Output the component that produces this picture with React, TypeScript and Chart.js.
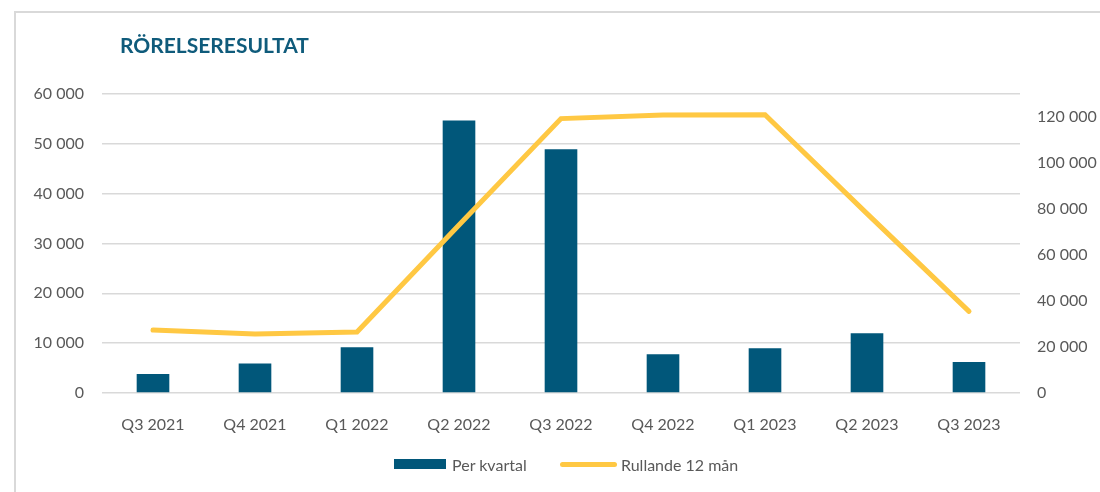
import React, { useEffect, useRef } from "react";
import { Chart, registerables } from "chart.js";

Chart.register(...registerables);

const categories = ["Q3 2021", "Q4 2021", "Q1 2022", "Q2 2022", "Q3 2022", "Q4 2022", "Q1 2023", "Q2 2023", "Q3 2023"];
const perKvartal = [3800, 5900, 9200, 54700, 48900, 7800, 9000, 12000, 6200];
const rullande12 = [27400, 25600, 26500, 73000, 119300, 120900, 121000, 78000, 35500];
const leftTicks = [0, 10000, 20000, 30000, 40000, 50000, 60000];
const rightTicks = [0, 20000, 40000, 60000, 80000, 100000, 120000];
const titleText = "RÖRELSERESULTAT";
const barLabel = "Per kvartal";
const lineLabel = "Rullande 12 mån";

const BAR_COLOR = "#01577A";
const LINE_COLOR = "#FFC843";
const TEXT_COLOR = "#595959";
const GRID_COLOR = "#D9D9D9";
const FONT = "Lato, 'Noto Sans', sans-serif";

const fmt = (v: number) => {
  const s = Math.round(v).toString();
  return s.replace(/\B(?=(\d{3})+(?!\d))/g, " ");
};

export default function App() {
  const canvasRef = useRef<HTMLCanvasElement | null>(null);

  useEffect(() => {
    if (!canvasRef.current) return;
    const chart = new Chart(canvasRef.current, {
      type: "bar",
      data: {
        labels: categories,
        datasets: [
          {
            type: "line",
            label: lineLabel,
            data: rullande12,
            yAxisID: "y1",
            borderColor: LINE_COLOR,
            backgroundColor: LINE_COLOR,
            borderWidth: 5,
            borderCapStyle: "round",
            borderJoinStyle: "miter",
            pointRadius: 0,
            pointHoverRadius: 0,
            tension: 0,
            order: 0,
          } as any,
          {
            type: "bar",
            label: barLabel,
            data: perKvartal,
            yAxisID: "y",
            backgroundColor: BAR_COLOR,
            borderWidth: 0,
            barPercentage: 0.32,
            categoryPercentage: 1,
            order: 1,
          },
        ],
      },
      options: {
        responsive: false,
        animation: false,
        layout: { padding: { left: 0, right: 0, top: 94, bottom: 51 } },
        plugins: {
          legend: { display: false },
          title: { display: false },
          tooltip: { enabled: false },
        },
        scales: {
          x: {
            grid: { display: false },
            border: { display: false },
            ticks: {
              color: TEXT_COLOR,
              font: { family: FONT, size: 16 },
              padding: 14,
              maxRotation: 0,
              autoSkip: false,
            },
            afterFit: (s: any) => {
              s.height = 48;
            },
          },
          y: {
            position: "left",
            min: 0,
            max: 60000,
            grid: { color: GRID_COLOR, lineWidth: 1.5, drawTicks: false },
            border: { display: false },
            ticks: {
              color: TEXT_COLOR,
              font: { family: FONT, size: 16 },
              padding: 18,
              callback: (v: any) => fmt(Number(v)),
            },
            afterBuildTicks: (s: any) => {
              s.ticks = leftTicks.map((v) => ({ value: v }));
            },
            afterFit: (s: any) => {
              s.width = 102;
            },
          },
          y1: {
            position: "right",
            min: 0,
            max: 130000,
            grid: { display: false, drawTicks: false },
            border: { display: false },
            ticks: {
              color: TEXT_COLOR,
              font: { family: FONT, size: 16 },
              padding: 17,
              callback: (v: any) => fmt(Number(v)),
            },
            afterBuildTicks: (s: any) => {
              s.ticks = rightTicks.map((v) => ({ value: v }));
            },
            afterFit: (s: any) => {
              s.width = 80;
            },
          },
        },
      } as any,
    });
    return () => chart.destroy();
  }, []);

  return (
    <div style={{ position: "absolute", left: 0, top: 0, width: 1100, height: 492, background: "#fff", overflow: "hidden", fontFamily: FONT }}>
      <div style={{ position: "absolute", left: 14, top: 11, width: 1200, height: 600, borderLeft: `2px solid ${GRID_COLOR}`, borderTop: `2px solid ${GRID_COLOR}` }} />
      <canvas ref={canvasRef} width={1100} height={492} style={{ position: "absolute", left: 0, top: 0, width: 1100, height: 492 }} />
      <div style={{ position: "absolute", left: 120, top: 33, fontSize: 21, lineHeight: "24px", fontWeight: 700, color: "#0F5B7B", whiteSpace: "nowrap" }}>{titleText}</div>
      <div style={{ position: "absolute", left: 394, top: 454, height: 20, display: "flex", alignItems: "center", color: TEXT_COLOR, fontSize: 16, whiteSpace: "nowrap" }}>
        <span style={{ display: "inline-block", width: 52, height: 10, background: BAR_COLOR, marginRight: 6 }} />
        <span>{barLabel}</span>
      </div>
      <div style={{ position: "absolute", left: 560, top: 454, height: 20, display: "flex", alignItems: "center", color: TEXT_COLOR, fontSize: 16, whiteSpace: "nowrap" }}>
        <span style={{ display: "inline-block", width: 57, height: 5, borderRadius: 3, background: LINE_COLOR, marginRight: 4 }} />
        <span>{lineLabel}</span>
      </div>
    </div>
  );
}
